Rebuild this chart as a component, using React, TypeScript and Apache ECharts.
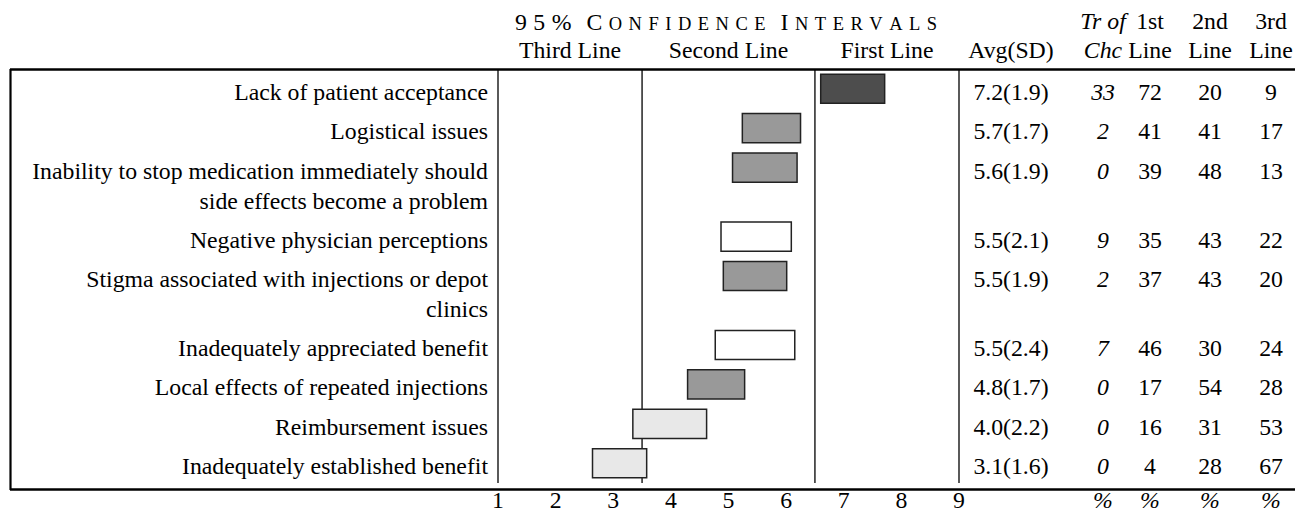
import React, { useEffect, useRef } from "react";
import * as echarts from "echarts";

// ---------- data ----------
const labels = [
  "Lack of patient acceptance",
  "Logistical issues",
  "Inability to stop medication immediately should\nside effects become a problem",
  "Negative physician perceptions",
  "Stigma associated with injections or depot\nclinics",
  "Inadequately appreciated benefit",
  "Local effects of repeated injections",
  "Reimbursement issues",
  "Inadequately established benefit",
];
const ciLow = [6.6, 5.24, 5.07, 4.87, 4.91, 4.77, 4.29, 3.34, 2.64];
const ciHigh = [7.71, 6.25, 6.19, 6.09, 6.01, 6.15, 5.28, 4.62, 3.58];
const avg = [7.2, 5.7, 5.6, 5.5, 5.5, 5.5, 4.8, 4.0, 3.1];
const sd = [1.9, 1.7, 1.9, 2.1, 1.9, 2.4, 1.7, 2.2, 1.6];
const trOfChc = [33, 2, 0, 9, 2, 7, 0, 0, 0];
const firstLinePct = [72, 41, 39, 35, 37, 46, 17, 16, 4];
const secondLinePct = [20, 41, 48, 43, 43, 30, 54, 31, 28];
const thirdLinePct = [9, 17, 13, 22, 20, 24, 28, 53, 67];
const shade = ["dark", "mid", "mid", "white", "mid", "white", "mid", "light", "light"];
const regionNames = ["Third Line", "Second Line", "First Line"];
const regionCenters = [2.25, 5, 7.75];
const dividers = [1, 3.5, 6.5, 9];
const xMin = 1;
const xMax = 9;

// ---------- styling ----------
const FONT = "Liberation Serif";
const FS = 23.75;
const LINE_H = 30;
const BOX_H = 0.74; // in row units
const FILLS: Record<string, string> = {
  dark: "#4d4d4d",
  mid: "#999999",
  white: "#ffffff",
  light: "#e8e8e8",
};
const COL = { avg: 1011, tr: 1103, first: 1150, second: 1210, third: 1271 };

// row layout derived from label line counts
const lineCounts = labels.map((l) => l.split("\n").length);
const rowHeights = lineCounts.map((n) => 1 + 0.75 * (n - 1));
const rowTops: number[] = [];
rowHeights.reduce((acc, h) => {
  rowTops.push(acc);
  return acc + h;
}, 0);
const totalUnits = rowHeights.reduce((a, b) => a + b, 0);
const rowCenters = rowTops.map((t) => t + 0.5);

const spaced = (s: string, style: string) =>
  s
    .split("")
    .map((c) => `{${style}|${c}}`)
    .join("{ls| }");
const ciTitle =
  spaced("95%", "big") +
  "{ws| }{big|C}{ls| }" +
  spaced("ONFIDENCE", "sm") +
  "{ws| }{big|I}{ls| }" +
  spaced("NTERVALS", "sm");

function txt(text: string, x: number, y: number, opts: any = {}) {
  return {
    type: "text",
    style: {
      text,
      x,
      y,
      fill: "#000",
      fontFamily: FONT,
      fontSize: FS,
      fontStyle: opts.italic ? "italic" : "normal",
      textAlign: opts.align || "center",
      align: opts.align || "center",
      textVerticalAlign: opts.valign || "middle",
      verticalAlign: opts.valign || "middle",
    },
  };
}

export default function App() {
  const ref = useRef<HTMLDivElement>(null);
  useEffect(() => {
    const chart = echarts.init(ref.current!, null, { renderer: "svg" });

    const pctOpts = { italic: true, valign: "bottom" };
    const graphic: any[] = [
      { type: "line", shape: { x1: 10, y1: 69.5, x2: 1295, y2: 69.5 }, style: { stroke: "#000", lineWidth: 2.6 } },
      { type: "line", shape: { x1: 10, y1: 489.5, x2: 1295, y2: 489.5 }, style: { stroke: "#000", lineWidth: 2.6 } },
      { type: "line", shape: { x1: 10.5, y1: 69, x2: 10.5, y2: 490 }, style: { stroke: "#000", lineWidth: 2.2 } },
      {
        type: "text",
        style: {
          text: ciTitle,
          x: 726,
          y: 22,
          textAlign: "center",
          align: "center",
          textVerticalAlign: "middle",
          verticalAlign: "middle",
          fill: "#000",
          fontFamily: FONT,
          rich: {
            big: { fontFamily: FONT, fontSize: FS, lineHeight: FS, verticalAlign: "bottom", fill: "#000" },
            sm: { fontFamily: FONT, fontSize: 18.5, lineHeight: 18.5, verticalAlign: "bottom", fill: "#000" },
            ls: { fontFamily: FONT, fontSize: 10, lineHeight: 10, width: 6.5, verticalAlign: "bottom" },
            ws: { fontFamily: FONT, fontSize: 10, lineHeight: 10, width: 15, verticalAlign: "bottom" },
          },
        },
      },
      txt("Tr of", COL.tr, 21, { italic: true }),
      txt("1st", COL.first, 21),
      txt("2nd", COL.second, 21),
      txt("3rd", COL.third, 21),
      txt("Avg(SD)", COL.avg, 50),
      txt("Chc", COL.tr, 50, { italic: true }),
      txt("Line", COL.first, 50),
      txt("Line", COL.second, 50),
      txt("Line", COL.third, 50),
      txt("%", COL.tr, 512, pctOpts),
      txt("%", COL.first, 512, pctOpts),
      txt("%", COL.second, 512, pctOpts),
      txt("%", COL.third, 512, pctOpts),
    ];

    const option: any = {
      animation: false,
      backgroundColor: "#fff",
      textStyle: { fontFamily: FONT },
      grid: { left: 498, top: 69, width: 461, height: 420 },
      xAxis: {
        type: "value",
        min: xMin,
        max: xMax,
        interval: 1,
        axisLine: { show: false },
        axisTick: { show: false },
        splitLine: { show: false },
        axisLabel: { color: "#000", fontFamily: FONT, fontSize: FS, margin: 5 },
      },
      yAxis: { type: "value", min: 0, max: totalUnits, inverse: true, show: false },
      graphic,
      series: [
        {
          type: "custom",
          clip: false,
          silent: true,
          data: dividers.map((v) => [v, 0]),
          encode: { x: 0, y: 1 },
          renderItem: (_p: any, api: any) => {
            const v = api.value(0);
            const a = api.coord([v, 0]);
            const b = api.coord([v, totalUnits]);
            return {
              type: "line",
              shape: { x1: a[0], y1: a[1], x2: b[0], y2: b[1] },
              style: { stroke: "#000", lineWidth: 1.3 },
            };
          },
        },
        {
          type: "custom",
          clip: false,
          silent: true,
          data: regionCenters.map((v) => [v, 0]),
          encode: { x: 0, y: 1 },
          renderItem: (p: any, api: any) => {
            const a = api.coord([api.value(0), 0]);
            return txt(regionNames[p.dataIndex], a[0], a[1] - 19);
          },
        },
        {
          type: "custom",
          clip: false,
          silent: true,
          data: labels.map((_, i) => [ciLow[i], ciHigh[i], rowCenters[i]]),
          encode: { x: [0, 1], y: 2 },
          renderItem: (p: any, api: any) => {
            const i = p.dataIndex;
            const yc = api.value(2);
            const a = api.coord([api.value(0), yc]);
            const b = api.coord([api.value(1), yc]);
            const h = Math.abs(api.size([0, BOX_H])[1]);
            const left = api.coord([xMin, yc])[0];
            const y = a[1];
            return {
              type: "group",
              children: [
                {
                  type: "rect",
                  shape: { x: a[0], y: y - h / 2, width: b[0] - a[0], height: h },
                  style: { fill: FILLS[shade[i]], stroke: "#222", lineWidth: 1.5 },
                },
                {
                  type: "text",
                  style: {
                    text: labels[i],
                    x: left - 10,
                    y: y - LINE_H / 2 + 3,
                    fill: "#000",
                    fontFamily: FONT,
                    fontSize: FS,
                    lineHeight: LINE_H,
                    textAlign: "right",
                    align: "right",
                    textVerticalAlign: "top",
                    verticalAlign: "top",
                  },
                },
                txt(`${avg[i].toFixed(1)}(${sd[i].toFixed(1)})`, COL.avg, y + 3),
                txt(String(trOfChc[i]), COL.tr, y + 3, { italic: true }),
                txt(String(firstLinePct[i]), COL.first, y + 3),
                txt(String(secondLinePct[i]), COL.second, y + 3),
                txt(String(thirdLinePct[i]), COL.third, y + 3),
              ],
            };
          },
        },
      ],
    };
    chart.setOption(option);
    return () => chart.dispose();
  }, []);
  return (
    <div
      ref={ref}
      style={{ position: "absolute", left: 0, top: 0, width: 1295, height: 512, background: "#fff" }}
    />
  );
}
